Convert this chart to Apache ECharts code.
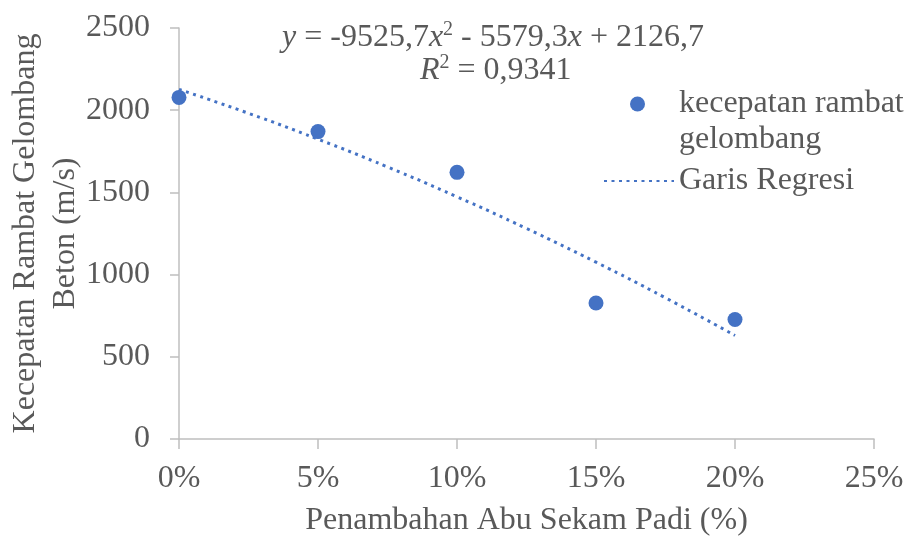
<!DOCTYPE html>
<html><head><meta charset="utf-8">
<script src="https://cdn.jsdelivr.net/npm/echarts@6/dist/echarts.min.js"></script>
<style>html,body{margin:0;padding:0;background:#fff}#c{width:909px;height:537px}</style>
</head><body><div id="c"></div>
<script>
// Data
const xPercent = [0, 0.05, 0.10, 0.15, 0.20];
const speed = [2078, 1870, 1622, 827, 727];
const trendX = [0, 0.025, 0.05, 0.075, 0.10, 0.125, 0.15, 0.175, 0.20];
const trendY = [2126.7, 1981.3, 1823.9, 1654.7, 1473.5, 1280.4, 1075.5, 858.6, 629.8];
const seriesNames = ['kecepatan rambat\ngelombang', 'Garis Regresi'];
const xTitle = 'Penambahan Abu Sekam Padi (%)';
const yTitle = 'Kecepatan Rambat Gelombang\nBeton (m/s)';

const FONT = '"Liberation Serif", "Times New Roman", serif';
const TXT = '#595959';
const BLUE = '#4472C4';
const AX = '#bfbfbf';
const FS = 32;

const chart = echarts.init(document.getElementById('c'), null, {renderer: 'canvas'});
chart.setOption({
  animation: false,
  backgroundColor: '#fff',
  textStyle: {fontFamily: FONT},
  grid: {left: 179, right: 35, top: 28, bottom: 98, containLabel: false, outerBoundsMode: 'none'},
  xAxis: {
    type: 'value', min: 0, max: 0.25, interval: 0.05,
    name: xTitle, nameLocation: 'middle', nameGap: 66,
    nameTextStyle: {fontFamily: FONT, fontSize: FS, color: TXT},
    axisLine: {show: true, lineStyle: {color: AX, width: 1.5}},
    axisTick: {show: true, inside: false, length: 10, lineStyle: {color: AX, width: 1.5}},
    axisLabel: {fontFamily: FONT, fontSize: FS, color: TXT, margin: 24,
      formatter: v => Math.round(v * 100) + '%'},
    splitLine: {show: false}
  },
  yAxis: {
    type: 'value', min: 0, max: 2500, interval: 500,
    name: yTitle, nameLocation: 'middle', nameGap: 93, nameRotate: 90, nameMoveOverlap: false,
    nameTextStyle: {fontFamily: FONT, fontSize: FS, color: TXT, lineHeight: 40},
    axisLine: {show: true, lineStyle: {color: AX, width: 1.5}},
    axisTick: {show: true, inside: false, length: 9, lineStyle: {color: AX, width: 1.5}},
    axisLabel: {fontFamily: FONT, fontSize: FS, color: TXT, margin: 29,
      formatter: v => String(v)},
    splitLine: {show: false}
  },
  legend: [{
    data: [seriesNames[0]], left: 630, top: 50, orient: 'vertical', padding: 0,
    itemWidth: 15, itemHeight: 15,
    formatter: n => '\n' + n.split('\n').map(s => '{sp|}{t|' + s + '}').join('\n'),
    itemStyle: {opacity: 1},
    textStyle: {fontFamily: FONT, fontSize: FS, color: TXT, lineHeight: 36,
      rich: {
        sp: {width: 29, lineHeight: 36},
        t: {fontFamily: FONT, fontSize: FS, color: TXT, lineHeight: 36}
      }}
  }, {
    data: [seriesNames[1]], left: 603, top: 163, orient: 'vertical', padding: 0,
    itemWidth: 70, itemHeight: 15,
    itemStyle: {opacity: 0},
    textStyle: {fontFamily: FONT, fontSize: FS, color: TXT, lineHeight: 36}
  }],
  graphic: [{
    type: 'text', left: 282, top: 20, z: 10,
    style: {
      text: '{i|y} = -9525,7{i|x}{s|2} - 5579,3{i|x} + 2126,7',
      font: FS + 'px ' + FONT, fill: TXT,
      rich: {
        i: {fontFamily: FONT, fontSize: FS, fontStyle: 'italic', fill: TXT, lineHeight: 36},
        s: {fontFamily: FONT, fontSize: 20, fill: TXT, verticalAlign: 'top', lineHeight: 22}
      }
    }
  }, {
    type: 'text', left: 420, top: 53, z: 10,
    style: {
      text: '{i|R}{s|2} = 0,9341',
      font: FS + 'px ' + FONT, fill: TXT,
      rich: {
        i: {fontFamily: FONT, fontSize: FS, fontStyle: 'italic', fill: TXT, lineHeight: 36},
        s: {fontFamily: FONT, fontSize: 20, fill: TXT, verticalAlign: 'top', lineHeight: 22}
      }
    }
  }],
  series: [{
    name: seriesNames[0], type: 'scatter', symbol: 'circle', symbolSize: 15,
    itemStyle: {color: BLUE, opacity: 1}, z: 3,
    data: xPercent.map((x, i) => [x, speed[i]])
  }, {
    name: seriesNames[1], type: 'line', symbol: 'none', smooth: true,
    lineStyle: {color: BLUE, width: 3, type: [3, 4.5]}, itemStyle: {color: BLUE}, z: 2,
    data: trendX.map((x, i) => [x, trendY[i]])
  }]
});
</script></body></html>
